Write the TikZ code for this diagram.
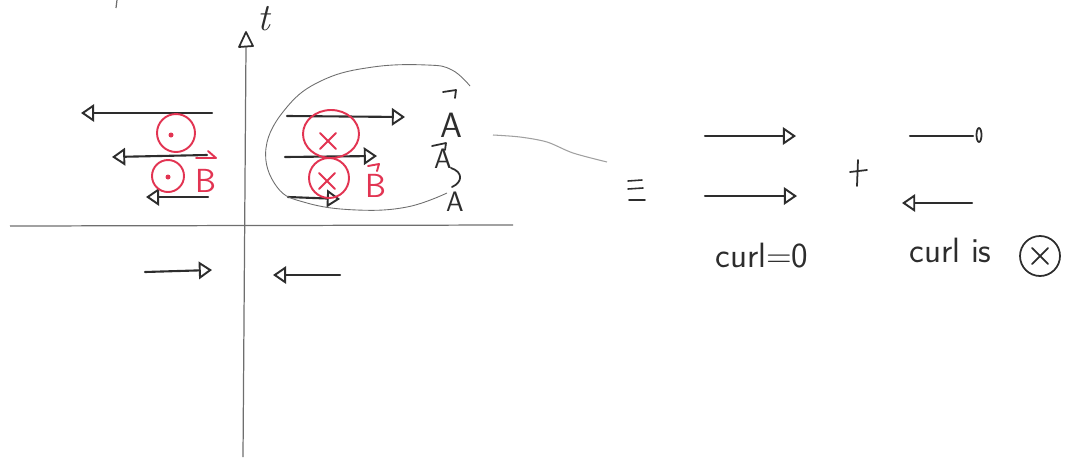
\documentclass[tikz,border=0pt]{standalone}
\usepackage{fontspec}
\usetikzlibrary{arrows.meta}
\definecolor{pencil}{RGB}{45,45,45}
\definecolor{ink}{RGB}{226,52,82}
\definecolor{faint}{RGB}{110,110,110}
\definecolor{haze}{RGB}{160,160,160}
\tikzset{
  vecline/.style={pencil, line width=1.2pt, line cap=round,
    -{Triangle[open,length=7.5pt,width=10pt,line width=1.1pt]}},
  axisline/.style={faint, line width=0.7pt},
  redpen/.style={ink, line width=1.1pt, line cap=round, line join=round},
  blackpen/.style={pencil, line width=1pt, line cap=round, line join=round},
  hand/.style={pencil, inner sep=0pt, anchor=base, font=\sffamily\fontsize{20}{24}\selectfont},
  redhand/.style={hand, ink, font=\sffamily\fontsize{19}{22}\selectfont},
  smallhand/.style={hand, font=\sffamily\fontsize{16}{20}\selectfont},
}
\begin{document}
\begin{tikzpicture}[x=0.02cm,y=-0.02cm]
\useasboundingbox (0,0) rectangle (1071,457);

% stray pencil tick
\draw[axisline] (117,0) -- (116,8);

% axes
\draw[axisline] (243,457) -- (246,46);
\draw[blackpen] (239,47) -- (246,32) -- (253,46) -- cycle;
\draw[axisline] (10,226) -- (513,225);
\node[hand, font=\itshape\fontsize{22}{24}\selectfont] (tlabel) at (264,30) {t};

% left group: leftward vectors
\draw[vecline] (212,113) -- (81,113);
\draw[vecline] (207,155) -- (112,157);
\draw[vecline] (208,197) -- (146,197);

% left group: field out of the page
\draw[redpen] (176,133) ellipse [x radius=19, y radius=19];
\fill[ink] (171,135) circle [radius=2.5];
\draw[redpen] (168,176) ellipse [x radius=16, y radius=16];
\fill[ink] (168,177) circle [radius=2.5];
\node[redhand] (bleft) at (206,192) {B};
\draw[redpen] (196,158) -- (216,158) -- (208,151);

% right group: rightward vectors
\draw[vecline] (287,116) -- (405,117);
\draw[vecline] (285,157) -- (377,156);
\draw[vecline] (288,197) -- (340,199);

% right group: field into the page
\draw[redpen] (331,134) ellipse [x radius=28, y radius=24];
\draw[redpen] (320,133) -- (336,149) (336,133) -- (320,149);
\draw[redpen] (329,178) circle [radius=20];
\draw[redpen] (319,173) -- (335,189) (335,173) -- (319,189);
\node[redhand] (bright) at (376,197) {B};
\draw[redpen] (368,166) -- (379,164) -- (377,171);

% loop drawn round the right group
\draw[faint, line width=0.5pt] plot[smooth, tension=0.7] coordinates
  {(470,86) (452,70) (427,65) (373,67) (323,80) (287,107) (266,148)
   (277,187) (307,203) (357,210) (407,207) (447,193)};

% vector potential labels
\node[hand] (a1) at (451,137) {A};
\draw[blackpen] (443,92) -- (456,90) -- (455,98);
\node[smallhand] (a2) at (443,168) {A};
\draw[blackpen] (432,146) -- (446,143) -- (445,150);
\node[smallhand] (a3) at (455,211) {A};
\draw[blackpen] (451,168) .. controls (463,172) and (463,182) .. (452,187);

% below the time axis
\draw[vecline] (145,272) -- (212,270);
\draw[vecline] (340,275) -- (273,275);

% connector to the decomposition
\draw[haze, line width=0.6pt] plot[smooth] coordinates
  {(493,135) (520,137) (547,142) (573,153) (607,162)};

% equivalence sign
\draw[blackpen, line width=0.9pt] (628,181) -- (642,180) (628,189) -- (643,188) (629,200) -- (645,200);

% uniform part
\draw[vecline] (705,136) -- (796,136);
\draw[vecline] (705,196) -- (797,196);
\node[hand] (curlzero) at (762,267) {curl=0};

% plus sign
\draw[blackpen] (850,172) -- (867,170) (858,160) -- (857,186);

% circulating part
\draw[pencil, line width=1.2pt, line cap=round] (910,136) -- (973,136);
\draw[blackpen] (979,135) ellipse [x radius=2.5, y radius=7];
\draw[vecline] (972,203) -- (902,203);
\node[hand, anchor=base west] (curlis) at (909,262) {curl is};
\draw[blackpen] (1040,256) circle [radius=20];
\draw[blackpen] (1032,248) -- (1048,264) (1048,248) -- (1032,264);

\end{tikzpicture}
\end{document}
